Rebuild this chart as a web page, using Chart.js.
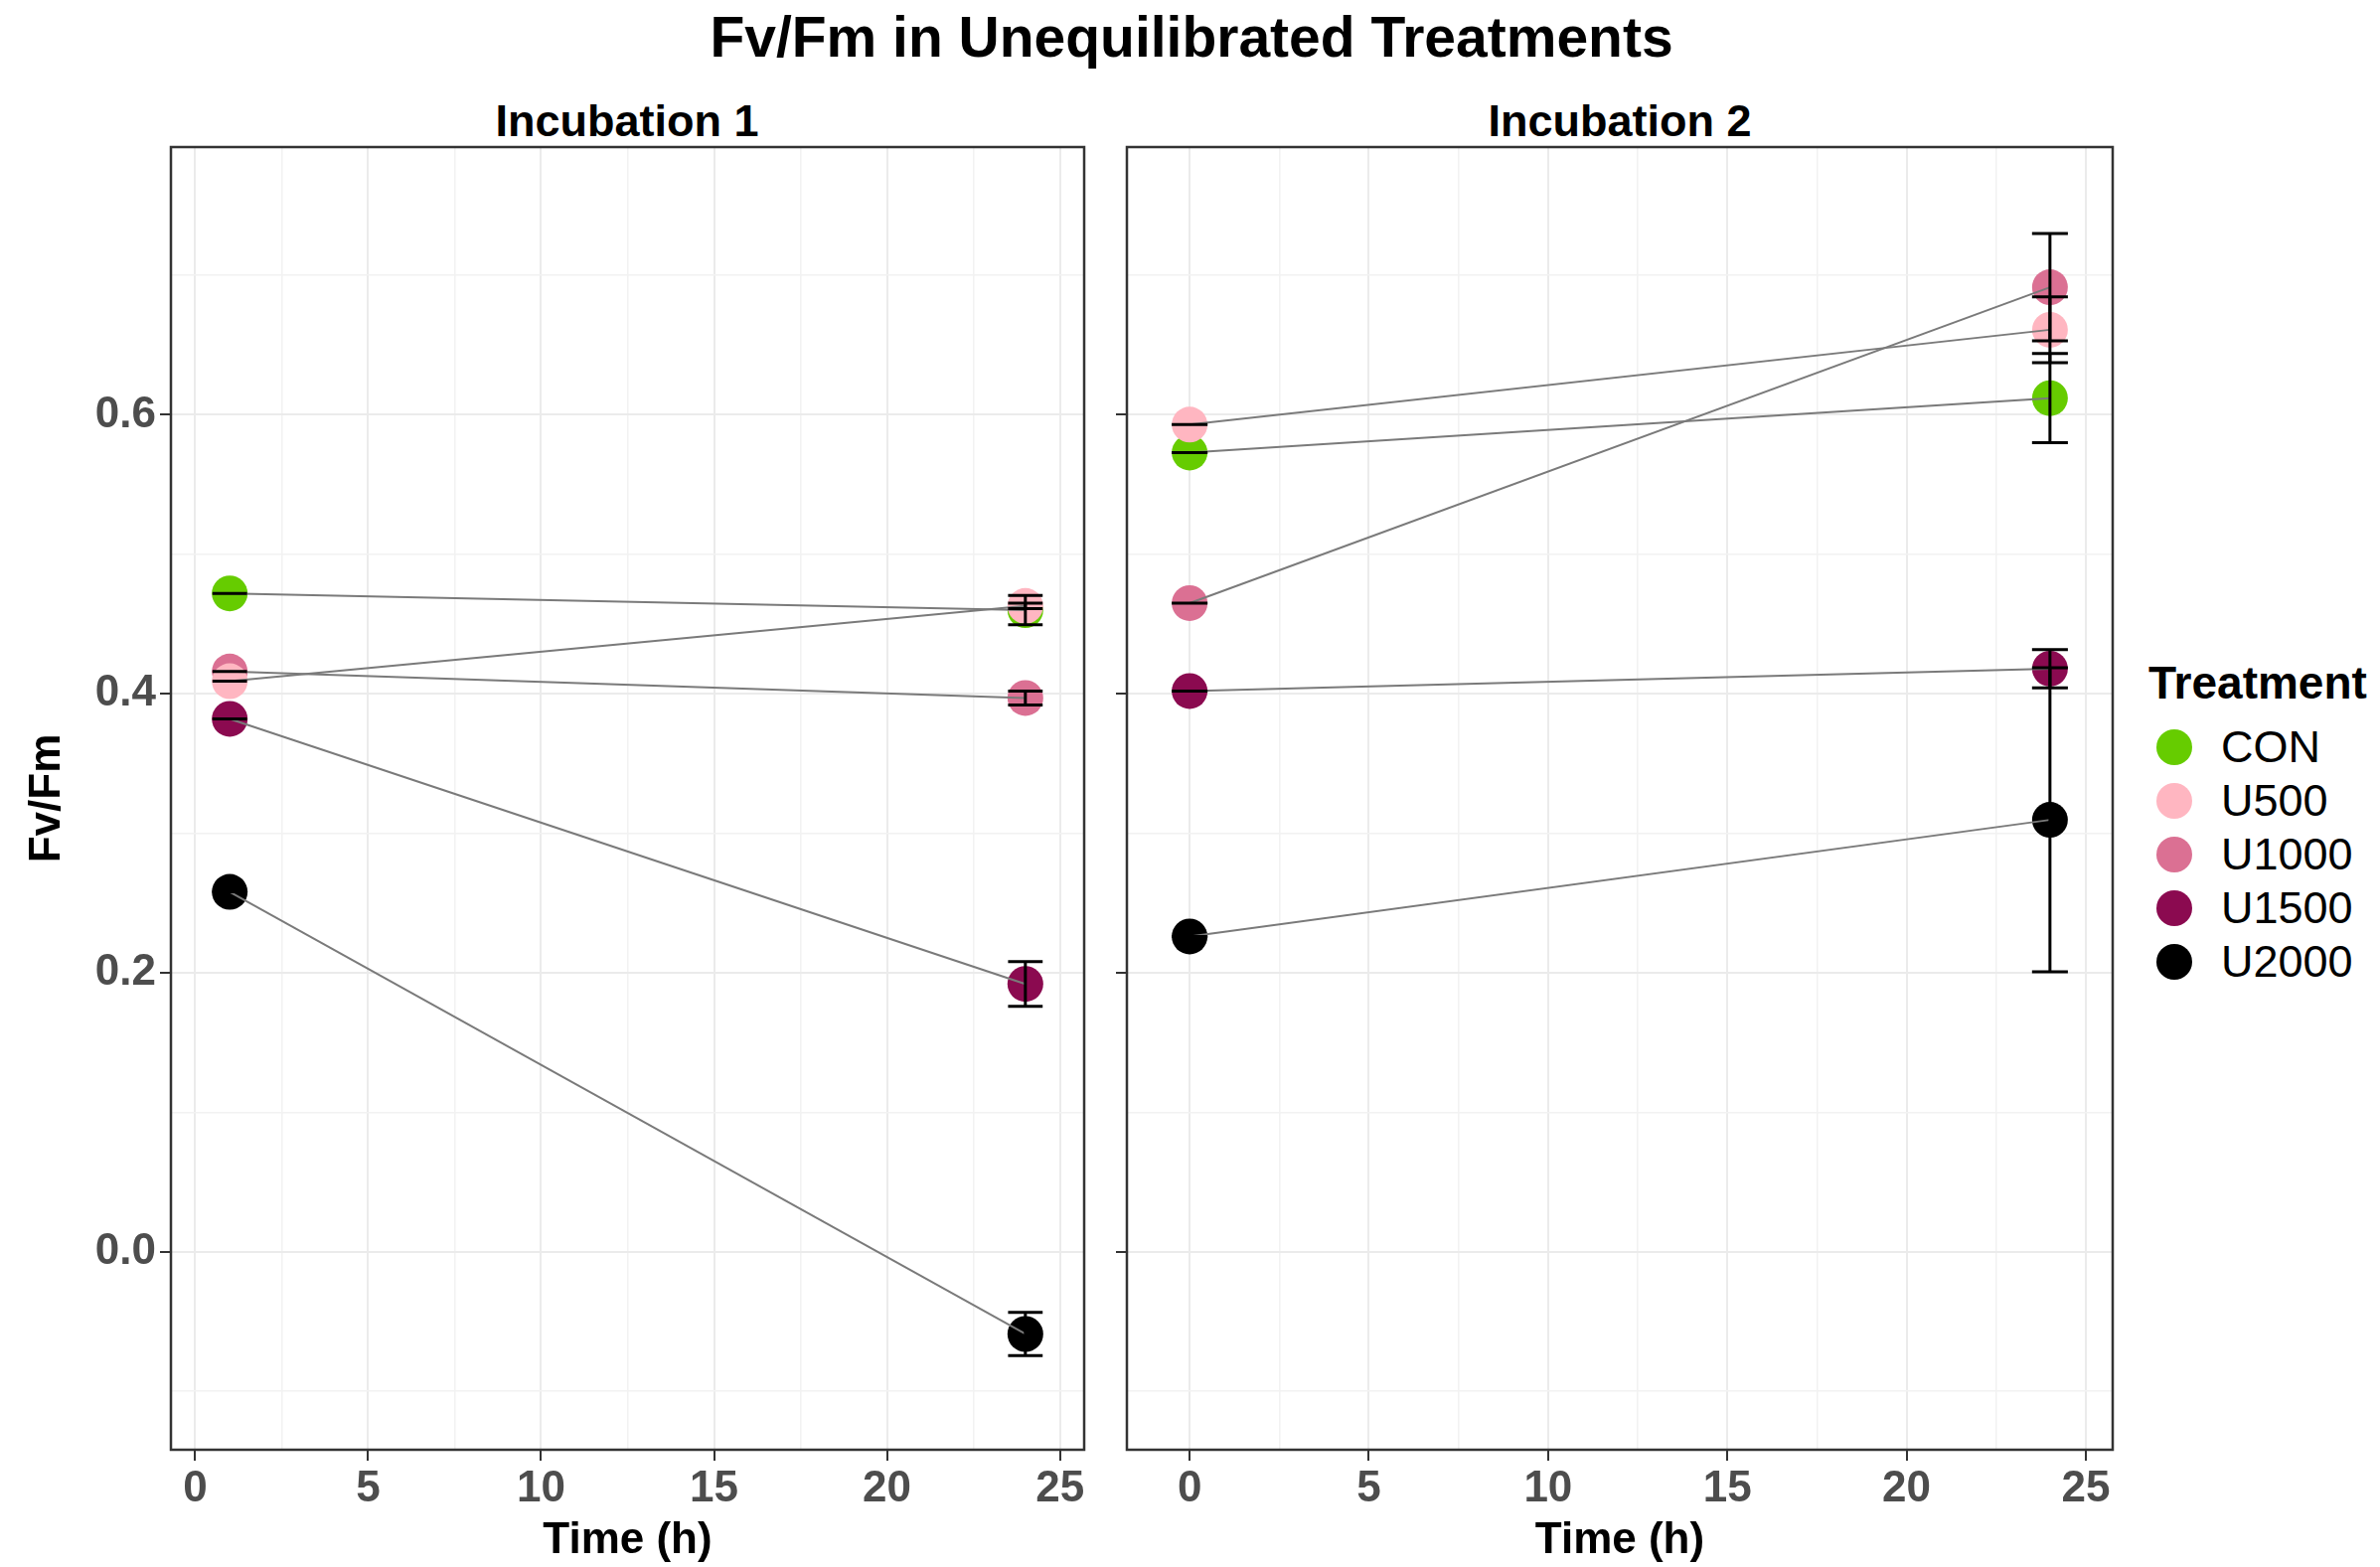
<!DOCTYPE html>
<html>
<head>
<meta charset="utf-8">
<script src="https://cdn.jsdelivr.net/npm/chart.js@4.4.0/dist/chart.umd.min.js"></script>
<style>
  body { margin: 0; width: 2395px; height: 1577px; background: #fff; position: relative; overflow: hidden;
         font-family: 'Liberation Sans', Arial, sans-serif; }
  canvas { position: absolute; top: 0; }
  #c1 { left: 0; }
  #c2 { left: 1110px; }
  .txt { position: absolute; white-space: nowrap; transform: translate(-50%, -50%); line-height: 1; color: #000; }
  #title { left: 1199px; top: 37px; font-size: 57px; font-weight: bold; }
  .strip { top: 121px; font-size: 45px; font-weight: bold; }
  #legend { position: absolute; left: 2162px; top: 665px; }
  #legend .head { font-size: 46px; font-weight: bold; height: 45px; line-height: 45px; margin-bottom: 15px; }
  #legend .item { display: flex; align-items: center; height: 54px; font-size: 45px; }
  #legend .dot { width: 36px; height: 36px; border-radius: 50%; margin-left: 8px; margin-right: 29px; }
</style>
</head>
<body>
<div id="title" class="txt">Fv/Fm in Unequilibrated Treatments</div>
<div class="txt strip" style="left:631px">Incubation 1</div>
<div class="txt strip" style="left:1630px">Incubation 2</div>
<canvas id="c1" width="1110" height="1577"></canvas>
<canvas id="c2" width="1034" height="1577"></canvas>
<div id="legend"></div>
<script>
const treatments = ['CON', 'U500', 'U1000', 'U1500', 'U2000'];
const colours = ['#66CC00', '#FFB6C1', '#DB7093', '#8B0A50', '#000000'];

// Incubation 1: measured at 1 h and 24 h
const inc1Times = [1, 24];
const inc1Start = [0.472, 0.409, 0.416, 0.382, 0.258];
const inc1StartSe = [0, 0, 0, 0, 0];
const inc1End = [0.460, 0.463, 0.397, 0.192, -0.059];
const inc1EndSe = [0.0105, 0.002, 0.005, 0.016, 0.0155];

// Incubation 2: measured at 0 h and 24 h
const inc2Times = [0, 24];
const inc2Start = [0.573, 0.593, 0.465, 0.402, 0.226];
const inc2StartSe = [0, 0, 0, 0, 0];
const inc2End = [0.612, 0.661, 0.6915, 0.418, 0.3096];
const inc2EndSe = [0.032, 0.0236, 0.0385, 0.0137, 0.109];

const xTicks = [0, 2.5, 5, 7.5, 10, 12.5, 15, 17.5, 20, 22.5, 25];
const xMajor = [0, 5, 10, 15, 20, 25];
const yTicks = [-0.1, 0, 0.1, 0.2, 0.3, 0.4, 0.5, 0.6, 0.7];
const yMajor = [0, 0.2, 0.4, 0.6];

const xRange1 = [-0.7, 25.7];
const xRange2 = [-1.75, 25.75];
const yRange = [-0.142, 0.792];

Chart.defaults.font.family = "'Liberation Sans', Arial, sans-serif";
Chart.defaults.animation = false;

const isMajor = (list, v) => list.some(m => Math.abs(m - v) < 1e-9);

const errorBars = {
  id: 'errorBars',
  afterDatasetsDraw(chart) {
    const {ctx, scales: {x, y}} = chart;
    ctx.save();
    ctx.strokeStyle = '#000';
    ctx.lineWidth = 3;
    chart.data.datasets.forEach(ds => {
      if (!ds.errors) return;
      ds.data.forEach((p, i) => {
        const px = x.getPixelForValue(p.x);
        const half = Math.abs(x.getPixelForValue(p.x + 0.5) - px);
        const top = y.getPixelForValue(p.y + ds.errors[i]);
        const bot = y.getPixelForValue(p.y - ds.errors[i]);
        ctx.beginPath();
        ctx.moveTo(px - half, top); ctx.lineTo(px + half, top);
        ctx.moveTo(px, top); ctx.lineTo(px, bot);
        ctx.moveTo(px - half, bot); ctx.lineTo(px + half, bot);
        ctx.stroke();
      });
    });
    ctx.restore();
  }
};

const panelBorder = {
  id: 'panelBorder',
  afterDraw(chart) {
    const {ctx, chartArea: a} = chart;
    ctx.save();
    ctx.strokeStyle = '#333333';
    ctx.lineWidth = 2.5;
    ctx.strokeRect(a.left, a.top, a.right - a.left, a.bottom - a.top);
    ctx.restore();
  }
};

function buildDatasets(times, start, startSe, end, endSe) {
  const sets = [];
  // grey connecting lines sit above the points
  treatments.forEach((t, i) => {
    sets.push({
      label: t + ' line',
      data: [{x: times[0], y: start[i]}, {x: times[1], y: end[i]}],
      borderColor: '#7A7A7A',
      borderWidth: 2,
      pointRadius: 0,
      showLine: true,
      order: 0
    });
  });
  treatments.forEach((t, i) => {
    sets.push({
      label: t,
      data: [{x: times[0], y: start[i]}, {x: times[1], y: end[i]}],
      errors: [startSe[i], endSe[i]],
      showLine: false,
      pointRadius: 18,
      pointHoverRadius: 18,
      pointBorderWidth: 0,
      backgroundColor: colours[i],
      borderColor: colours[i],
      order: t === 'U500' ? 1 : 2
    });
  });
  return sets;
}

function gridOpts(major) {
  return {
    color: ctx => isMajor(major, ctx.tick.value) ? '#EBEBEB' : '#F2F2F2',
    lineWidth: ctx => isMajor(major, ctx.tick.value) ? 2 : 1.5,
    tickColor: ctx => isMajor(major, ctx.tick.value) ? '#333333' : 'rgba(0,0,0,0)',
    tickWidth: 2,
    tickLength: 11,
    drawTicks: true
  };
}

function makeChart(id, times, start, startSe, end, endSe, xRange, first) {
  return new Chart(document.getElementById(id), {
    type: 'line',
    data: {datasets: buildDatasets(times, start, startSe, end, endSe)},
    options: {
      responsive: false,
      events: [],
      layout: {padding: {top: 148, right: first ? 19 : 9, left: 0, bottom: 0}},
      plugins: {legend: {display: false}, tooltip: {enabled: false}},
      scales: {
        x: {
          type: 'linear',
          min: xRange[0],
          max: xRange[1],
          afterBuildTicks: s => { s.ticks = xTicks.map(v => ({value: v})); },
          afterFit: s => { s.height = 118; },
          border: {display: false},
          grid: gridOpts(xMajor),
          ticks: {
            color: '#4D4D4D',
            font: {size: 44, weight: 'bold'},
            padding: 2,
            maxRotation: 0,
            autoSkip: false,
            callback: v => isMajor(xMajor, v) ? String(v) : ''
          },
          title: {
            display: true,
            text: 'Time (h)',
            color: '#000',
            font: {size: 44, weight: 'bold'},
            padding: {top: 0, bottom: 0}
          }
        },
        y: {
          type: 'linear',
          min: yRange[0],
          max: yRange[1],
          afterBuildTicks: s => { s.ticks = yTicks.map(v => ({value: v})); },
          afterFit: s => { s.width = first ? 172 : 24; },
          border: {display: false},
          grid: gridOpts(yMajor),
          ticks: {
            display: first,
            color: '#4D4D4D',
            font: {size: 44, weight: 'bold'},
            padding: 4,
            autoSkip: false,
            callback: v => isMajor(yMajor, v) ? v.toFixed(1) : ''
          },
          title: {
            display: first,
            text: 'Fv/Fm',
            color: '#000',
            font: {size: 44, weight: 'bold'},
            padding: {top: 21, bottom: 0}
          }
        }
      }
    },
    plugins: [errorBars, panelBorder]
  });
}

makeChart('c1', inc1Times, inc1Start, inc1StartSe, inc1End, inc1EndSe, xRange1, true);
makeChart('c2', inc2Times, inc2Start, inc2StartSe, inc2End, inc2EndSe, xRange2, false);

// legend
const legend = document.getElementById('legend');
legend.innerHTML = '<div class="head">Treatment</div>';
treatments.forEach((t, i) => {
  const row = document.createElement('div');
  row.className = 'item';
  row.innerHTML = `<span class="dot" style="background:${colours[i]}"></span><span>${t}</span>`;
  legend.append(row);
});
</script>
</body>
</html>
